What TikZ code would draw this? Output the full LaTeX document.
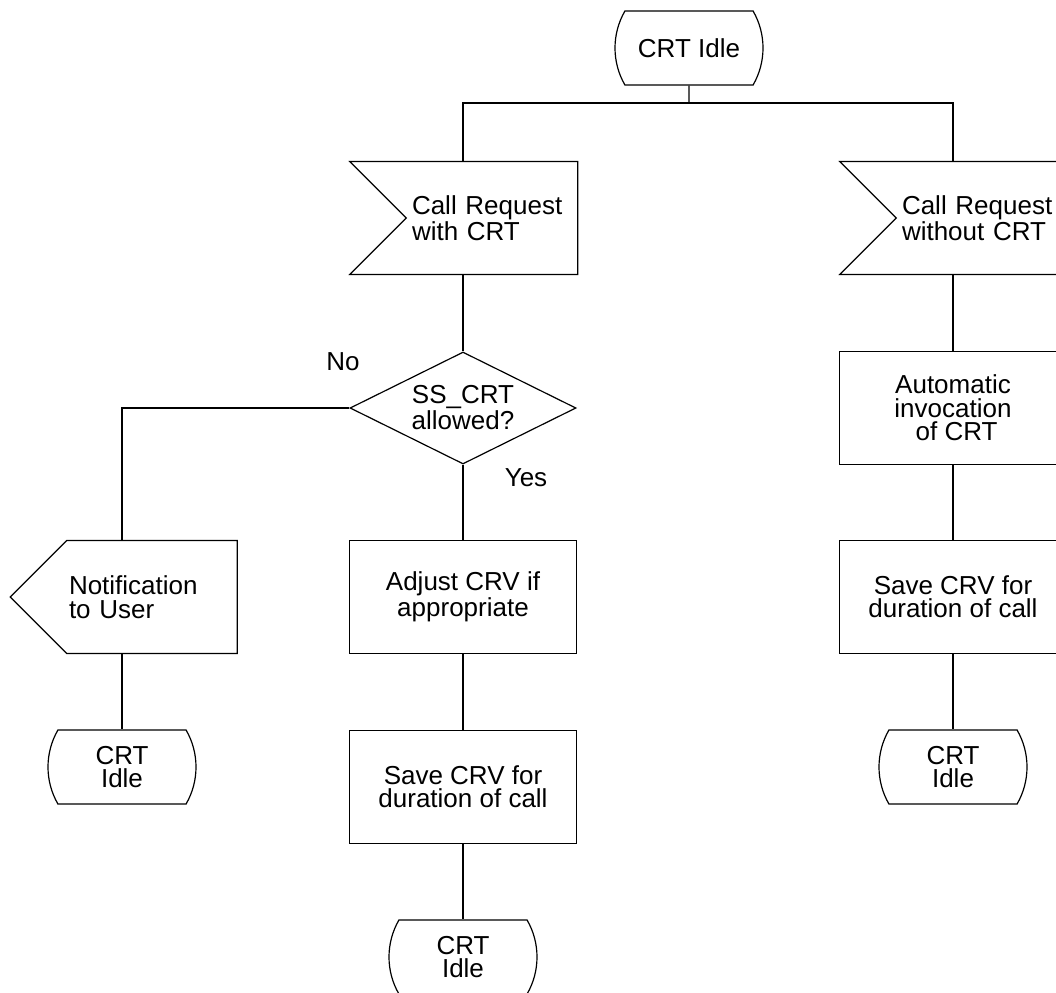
\documentclass[tikz,border=0pt]{standalone}
\usepackage{fontspec}
\setmainfont{Liberation Sans}
\usetikzlibrary{shapes.geometric,shapes.misc,shapes.symbols}

\tikzset{
  sdl/.style={draw, line width=0.6pt, font=\fontsize{13}{11.7}\selectfont, inner sep=0pt},
  state/.style={sdl, rounded rectangle, rounded rectangle arc length=60,
    minimum width=74pt, minimum height=37pt, align=center},
  input/.style={sdl, signal, signal from=west, signal to=nowhere, signal pointer angle=90,
    minimum width=114pt, minimum height=56.5pt, text width=80pt, align=left},
  output/.style={sdl, signal, signal to=west, signal from=nowhere, signal pointer angle=90,
    minimum width=113.5pt, minimum height=56.5pt, text width=83pt, align=left},
  task/.style={sdl, rectangle, minimum width=113.5pt, minimum height=56.5pt, align=center},
  decision/.style={sdl, diamond, aspect=2, minimum width=113pt, minimum height=56pt, align=center},
  flow/.style={line width=0.6pt},
  answer/.style={font=\fontsize{13}{11.7}\selectfont},
}

\begin{document}
\begin{tikzpicture}[x=0.5pt, y=-0.5pt]
    \useasboundingbox (0, 0) rectangle (1056, 992);

    % start state
    \node[state] (idle) at (689, 48) {CRT Idle};
    \coordinate (split) at (689, 103);

    % branch with CRT
    \node[input] (withcrt) at (492, 218) {Call Request\\with CRT};
    \node[decision] (allowed) at (463, 408) {SS\_CRT\\allowed?};
    \node[output] (notify) at (152, 597) {Notification\\to User};
    \node[state] (idleno) at (122, 767) {CRT\\Idle};
    \node[task] (adjust) at (463, 597) {Adjust CRV if\\appropriate};
    \node[task] (savewith) at (463, 787) {Save CRV for\\duration of call};
    \node[state] (idleyes) at (463, 957) {CRT\\Idle};
    \node[answer] (no) at (343, 362) {No};
    \node[answer] (yes) at (526, 478) {Yes};

    % branch without CRT
    \node[input] (withoutcrt) at (982, 218) {Call Request\\without CRT};
    \node[task] (auto) at (953, 408) {Automatic\\invocation\\\ of CRT};
    \node[task] (savewithout) at (953, 597) {Save CRV for\\duration of call};
    \node[state] (idlewithout) at (953, 767) {CRT\\Idle};

    % connectors
    \draw[flow] (idle) -- (split);
    \draw[flow] (allowed.north |- withcrt.north) |- (split) -| (auto.north |- withoutcrt.north);
    \draw[flow] (allowed.north |- withcrt.south) -- (allowed.north);
    \draw[flow] (allowed.west) -| (idleno.north |- notify.north);
    \draw[flow] (idleno.north |- notify.south) -- (idleno.north);
    \draw[flow] (allowed.south) -- (adjust.north);
    \draw[flow] (adjust.south) -- (savewith.north);
    \draw[flow] (savewith.south) -- (idleyes.north);
    \draw[flow] (auto.north |- withoutcrt.south) -- (auto.north);
    \draw[flow] (auto.south) -- (savewithout.north);
    \draw[flow] (savewithout.south) -- (idlewithout.north);
\end{tikzpicture}
\end{document}
